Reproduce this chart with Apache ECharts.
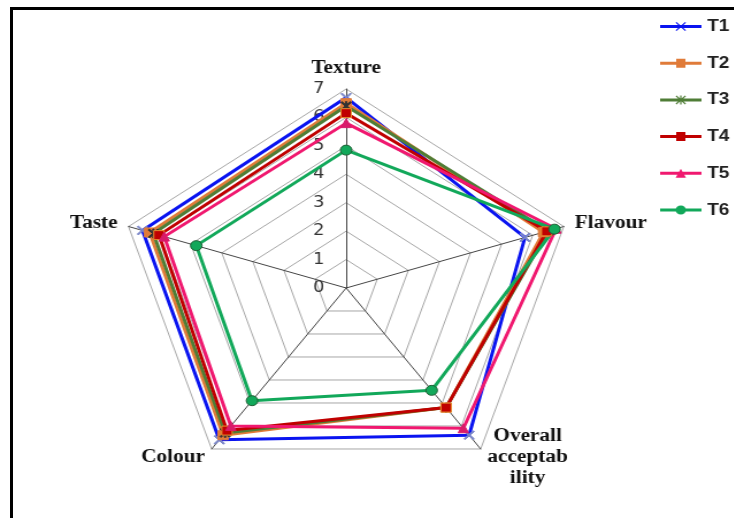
<!DOCTYPE html>
<html>
<head>
<meta charset="utf-8">
<script src="https://cdn.jsdelivr.net/npm/echarts@6/dist/echarts.min.js"></script>
<style>
  html, body { margin: 0; padding: 0; background: #fff; }
  .frame {
    position: absolute; left: 10px; top: 7px; width: 724px; height: 511px;
    border-top: 3px solid #000; border-left: 3px solid #000;
  }
  /* the source picture is stretched sideways, so the chart is too */
  .echart {
    position: absolute; left: 0; top: 0; width: 638px; height: 518px;
    transform: scaleX(1.15); transform-origin: 0 0;
  }
</style>
</head>
<body>
<div class="frame"></div>
<div id="chart" class="echart"></div>
<script>
// indicators, counter-clockwise from the top
const categories = ['Texture', 'Taste', 'Colour', 'Overall\nacceptab\nility', 'Flavour']
const seriesNames = ['T1', 'T2', 'T3', 'T4', 'T5', 'T6']
const T1 = [6.7, 6.55, 6.6, 6.4, 5.75]
const T2 = [6.5, 6.32, 6.4, 5.2, 6.35]
const T3 = [6.4, 6.2, 6.3, 5.2, 6.5]
const T4 = [6.15, 6.02, 6.2, 5.2, 6.45]
const T5 = [5.8, 5.85, 6.0, 6.1, 6.75]
const T6 = [4.85, 4.82, 4.9, 4.45, 6.7]
const axisMax = 7

const colors = ['#0a14f0', '#e07b39', '#4f7d36', '#c00000', '#f0186f', '#12a85a']
const crossPath = 'path://M0,1 L1,0 L5,4 L9,0 L10,1 L6,5 L10,9 L9,10 L5,6 L1,10 L0,9 L4,5 Z'
const starPath = 'path://M0,1 L1,0 L5,4 L9,0 L10,1 L6,5 L10,9 L9,10 L5,6 L1,10 L0,9 L4,5 Z M4.4,0 L5.6,0 L5.6,10 L4.4,10 Z'

// legend icons: a line with the marker in the middle (36 x 9 box)
const legLine = 'M0,3 L36,3 L36,6 L0,6 Z '
const legCross = 'M13.5,0.8 L14.3,0 L18,3.7 L21.7,0 L22.5,0.8 L18.8,4.5 L22.5,8.2 L21.7,9 L18,5.3 L14.3,9 L13.5,8.2 L17.2,4.5 Z '
const legIcons = [
  'path://' + legLine + legCross,
  'path://' + legLine + 'M14,0 L22,0 L22,9 L14,9 Z',
  'path://' + legLine + legCross + 'M17.4,0 L18.6,0 L18.6,9 L17.4,9 Z',
  'path://' + legLine + 'M14,0 L22,0 L22,9 L14,9 Z',
  'path://' + legLine + 'M18,0 L22.5,9 L13.5,9 Z',
  'path://' + legLine + 'M13.5,4.5 A4.5,4.5 0 1 1 22.5,4.5 A4.5,4.5 0 1 1 13.5,4.5 Z'
]

const allData = [T1, T2, T3, T4, T5, T6]
const symbols = [crossPath, 'rect', starPath, 'rect', 'triangle', 'circle']
const symbolColors = ['#7a86c8', '#e07b39', '#333', '#c00000', '#d81b6a', '#12a85a']
const symbolBorders = ['#7a86c8', '#e07b39', '#333', '#e8902e', '#d81b6a', '#1f5e34']

const series = seriesNames.map((name, i) => ({
  name: name,
  type: 'radar',
  symbol: symbols[i],
  symbolSize: i === 5 ? 10 : 9,
  lineStyle: { color: colors[i], width: 3 },
  itemStyle: { color: symbolColors[i], borderColor: symbolBorders[i], borderWidth: 1 },
  data: [{ value: allData[i], name: name }]
}))

const option = {
  color: colors,
  animation: false,
  legend: {
    data: seriesNames.map((name, i) => ({
      name: name,
      icon: legIcons[i],
      itemStyle: { color: colors[i], borderWidth: 0 }
    })),
    orient: 'vertical',
    left: 569,
    top: 13,
    itemWidth: 36,
    itemHeight: 9,
    itemGap: 19.7,
    textStyle: { fontFamily: 'Liberation Sans', fontWeight: 'bold', fontSize: 16.5, color: '#222' }
  },
  radar: {
    center: [301, 288],
    radius: 199,
    startAngle: 90,
    shape: 'polygon',
    splitNumber: 7,
    nameGap: 10,
    indicator: categories.map((c, i) => {
      const ind = { name: c, min: 0, max: axisMax }
      if (i === 0) ind.axisLabel = { show: true }
      return ind
    }),
    axisName: {
      color: '#111',
      fontFamily: 'Liberation Serif',
      fontWeight: 'bold',
      fontSize: 18.5,
      lineHeight: 21,
      formatter: (name) => name.split('\n').map(s => '{c|' + s + '}').join('\n'),
      rich: {
        c: {
          align: 'center',
          color: '#111',
          fontFamily: 'Liberation Serif',
          fontWeight: 'bold',
          fontSize: 18.5,
          lineHeight: 21
        }
      }
    },
    axisLabel: {
      show: false,
      fontFamily: 'DejaVu Sans',
      fontSize: 15.5,
      color: '#333',
      margin: 19
    },
    axisLine: { lineStyle: { color: '#444', width: 1 } },
    splitLine: { lineStyle: { color: '#a6a6a6', width: 1 } },
    splitArea: { show: false }
  },
  series: series
}

const chart = echarts.init(document.getElementById('chart'))
chart.setOption(option)
</script>
</body>
</html>
